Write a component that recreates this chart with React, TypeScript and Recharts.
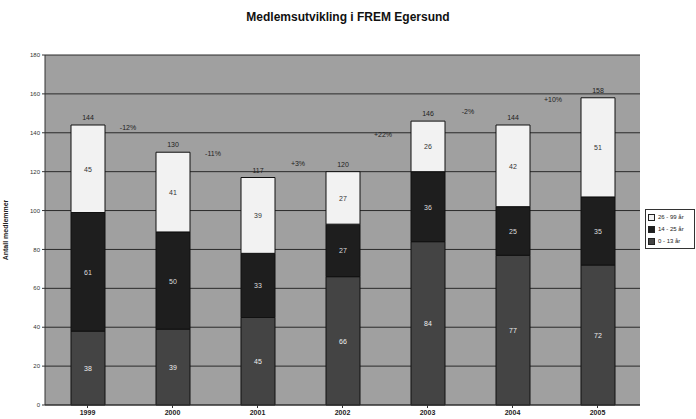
import { BarChart, Bar, XAxis, YAxis, CartesianGrid, LabelList } from 'recharts'

const years = ['1999', '2000', '2001', '2002', '2003', '2004', '2005']
const age0to13 = [38, 39, 45, 66, 84, 77, 72]
const age14to25 = [61, 50, 33, 27, 36, 25, 35]
const age26to99 = [45, 41, 39, 27, 26, 42, 51]
const changeLabels = ['-12%', '-11%', '+3%', '+22%', '-2%', '+10%']
const yTicks = [0, 20, 40, 60, 80, 100, 120, 140, 160, 180]

const data = years.map((year, i) => ({
  year,
  young: age0to13[i],
  mid: age14to25[i],
  old: age26to99[i],
  total: age0to13[i] + age14to25[i] + age26to99[i],
}))

const FONT = 'Liberation Sans, Arial, sans-serif'

function SegmentLabel({ x, y, width, height, value, color }: any) {
  const cx = Number(x) + Number(width) / 2
  const cy = Number(y) + Number(height) / 2
  return (
    <text x={cx} y={cy} dy={3} textAnchor="middle" fontSize={7} fontFamily={FONT} fill={color}>
      {value}
    </text>
  )
}

function TopLabel({ x, y, width, height, index }: any) {
  const d = data[index]
  const px = Number(height) / d.old
  const top = Number(y)
  const base = top + d.total * px
  const cx = Number(x) + Number(width) / 2
  const next = data[index + 1]
  let change = null
  if (next) {
    const nextTop = base - next.total * px
    change = (
      <text x={cx + 40} y={(top + nextTop) / 2 - 9} textAnchor="middle" fontSize={7} fontFamily={FONT} fill="#222">
        {changeLabels[index]}
      </text>
    )
  }
  return (
    <g>
      <text x={cx} y={top - 5} textAnchor="middle" fontSize={7} fontFamily={FONT} fill="#222">
        {d.total}
      </text>
      {change}
    </g>
  )
}

const legendItems = [
  { label: '26 - 99 år', color: '#f2f2f2' },
  { label: '14 - 25 år', color: '#1e1e1e' },
  { label: '0 - 13 år', color: '#444444' },
]

function LegendBox() {
  return (
    <div
      style={{
        position: 'absolute',
        left: 645,
        top: 209,
        border: '1px solid #333',
        background: '#fff',
        padding: '1px 2px',
        fontFamily: FONT,
        fontSize: 6,
        color: '#222',
        width: 44,
      }}
    >
      {legendItems.map((it) => (
        <div key={it.label} style={{ display: 'flex', alignItems: 'center', height: 12, whiteSpace: 'nowrap' }}>
          <span style={{ width: 5, height: 5, background: it.color, border: '1px solid #222', marginRight: 3 }} />
          {it.label}
        </div>
      ))}
    </div>
  )
}

export default function App() {
  return (
    <div style={{ position: 'absolute', left: 0, top: 0, width: 696, height: 419, background: '#fff' }}>
      <div
        style={{
          position: 'absolute',
          top: 10,
          left: 0,
          width: 696,
          textAlign: 'center',
          fontFamily: FONT,
          fontWeight: 'bold',
          fontSize: 12,
          color: '#111',
        }}
      >
        Medlemsutvikling i FREM Egersund
      </div>
      <BarChart
        width={696}
        height={419}
        data={data}
        margin={{ top: 55, right: 56, bottom: 0, left: 0 }}
        barSize={34}
      >
        <CartesianGrid vertical={false} fill="#a0a0a0" fillOpacity={1} stroke="#2a2a2a" />
        <XAxis
          dataKey="year"
          height={14}
          tick={{ fontSize: 7, fontFamily: FONT, fill: '#222', fontWeight: 'bold' }}
          tickLine={{ stroke: '#333' }}
          axisLine={{ stroke: '#333' }}
          tickSize={3}
        />
        <YAxis
          width={45}
          domain={[0, 180]}
          ticks={yTicks}
          interval={0}
          tick={{ fontSize: 6, fontFamily: FONT, fill: '#333' }}
          tickLine={{ stroke: '#333' }}
          axisLine={{ stroke: '#333' }}
          tickSize={3}
          label={{
            value: 'Antall medlemmer',
            angle: -90,
            position: 'insideLeft',
            offset: 6,
            style: { fontSize: 7, fontFamily: FONT, fontWeight: 'bold', fill: '#222', textAnchor: 'middle' },
          }}
        />
        <Bar dataKey="young" stackId="a" fill="#444444" stroke="#111" strokeWidth={1} isAnimationActive={false}>
          <LabelList dataKey="young" content={(p: any) => <SegmentLabel {...p} color="#eee" />} />
        </Bar>
        <Bar dataKey="mid" stackId="a" fill="#1e1e1e" stroke="#111" strokeWidth={1} isAnimationActive={false}>
          <LabelList dataKey="mid" content={(p: any) => <SegmentLabel {...p} color="#ddd" />} />
        </Bar>
        <Bar dataKey="old" stackId="a" fill="#f2f2f2" stroke="#111" strokeWidth={1} isAnimationActive={false}>
          <LabelList dataKey="old" content={(p: any) => <SegmentLabel {...p} color="#333" />} />
          <LabelList dataKey="old" content={(p: any) => <TopLabel {...p} />} />
        </Bar>
      </BarChart>
      <LegendBox />
    </div>
  )
}
